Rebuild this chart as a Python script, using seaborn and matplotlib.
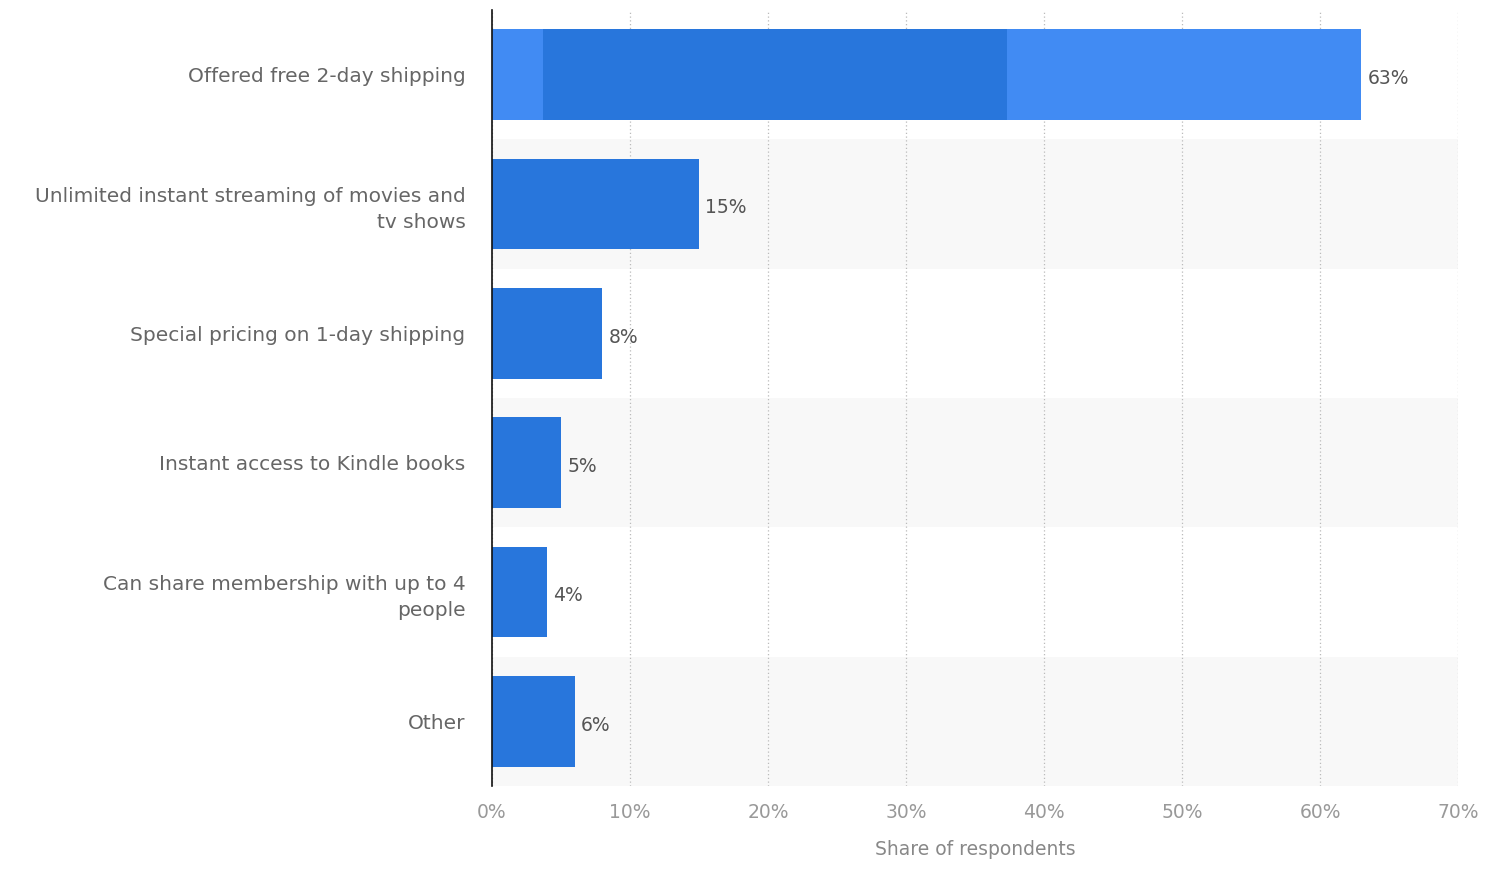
import matplotlib.pyplot as plt
import matplotlib.ticker as ticker
import seaborn as sns
import pandas as pd

categories = [
    'Offered free 2-day shipping',
    'Unlimited instant streaming of movies and\ntv shows',
    'Special pricing on 1-day shipping',
    'Instant access to Kindle books',
    'Can share membership with up to 4\npeople',
    'Other',
]
shares = [63, 15, 8, 5, 4, 6]
# the first bar is shown in its hover colour, with a darker stretch inside it
hover_span = [3.7, 37.3]

BLUE = '#2876dc'
HOVER = '#418bf3'

sns.set_style('white')
plt.rcParams['font.family'] = ['DejaVu Sans']

df = pd.DataFrame({'label': categories, 'share': shares})
colors = [HOVER] + [BLUE] * (len(categories) - 1)

fig = plt.figure(figsize=(15.06, 8.73), dpi=100)
ax = fig.add_axes([0.3267, 0.0997, 0.6415, 0.8888])

sns.barplot(data=df, x='share', y='label', hue='label', palette=colors,
            legend=False, width=0.7, saturation=1, linewidth=0, ax=ax, zorder=3)

# darker stretch of the hovered bar
p0 = ax.patches[0]
ax.barh(p0.get_y() + p0.get_height() / 2, hover_span[1] - hover_span[0],
        left=hover_span[0], height=p0.get_height(), color=BLUE, lw=0, zorder=4)

# alternating row bands
for i in range(len(categories)):
    if i % 2 == 1:
        ax.axhspan(i - 0.5, i + 0.5, color='#f8f8f8', zorder=0, lw=0)

for i, v in enumerate(shares):
    ax.text(v + 0.45, i + 0.03, f'{v}%', va='center', ha='left', fontsize=13.5,
            color='#555555', zorder=5)

ax.set_xlim(0, 70)
ax.set_ylim(len(categories) - 0.5, -0.5)
ax.xaxis.set_major_locator(ticker.MultipleLocator(10))
ax.xaxis.set_major_formatter(ticker.FuncFormatter(lambda x, pos: f'{int(x)}%'))
ax.grid(axis='x', linestyle=(0, (1, 2)), color='#bbbbbb', lw=0.9, zorder=1)
ax.set_axisbelow(True)

for s in ['top', 'right', 'bottom']:
    ax.spines[s].set_visible(False)
ax.spines['left'].set_color('#111111')
ax.spines['left'].set_linewidth(1.2)
ax.spines['left'].set_zorder(6)

ax.tick_params(axis='x', length=0, pad=12, labelsize=13.5, labelcolor='#999999')
ax.tick_params(axis='y', length=0, pad=19, labelsize=14.5, labelcolor='#666666')
for t in ax.get_yticklabels():
    t.set_multialignment('right')
    t.set_linespacing(1.45)

ax.set_ylabel('')
ax.set_xlabel('Share of respondents', fontsize=13.5, color='#888888', labelpad=13)

fig.savefig('out.png', dpi=100)
